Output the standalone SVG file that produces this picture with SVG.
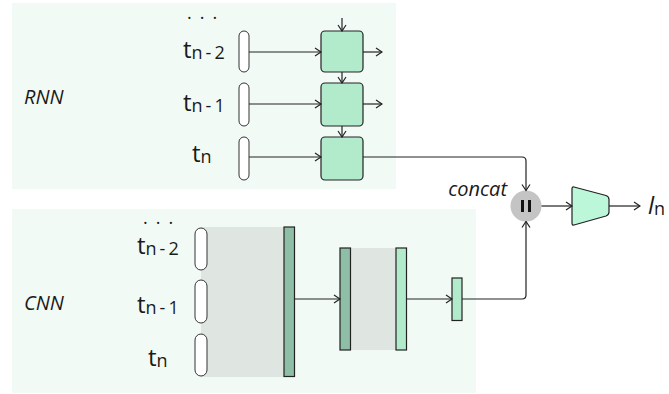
<svg xmlns="http://www.w3.org/2000/svg" width="669" height="394" viewBox="0 0 669 394">
  <defs>
    <marker id="arr" viewBox="0 0 8 10" markerWidth="8" markerHeight="10" refX="7" refY="5" orient="auto" markerUnits="userSpaceOnUse">
      <path d="M1,1 L7,5 L1,9" fill="none" stroke="#222" stroke-width="1.2"/>
    </marker>
    <style>
      .panel { fill: #f2faf6; }
      .pill { fill: #ffffff; stroke: #333; stroke-width: 1; }
      .cell { fill: #b2ebcb; stroke: #222; stroke-width: 1.2; }
      .conn { fill: none; stroke: #222; stroke-width: 1.2; }
      .lbl { font-family: "Open Sans", "DejaVu Sans", sans-serif; font-weight: 400; fill: #1a1a1a; }
      .it { font-style: italic; font-size: 20px; }
      .t { font-size: 24px; }
      .sub { font-size: 18px; letter-spacing: 3px; }
      .dots { font-size: 18px; letter-spacing: 8px; }
      .dark { fill: #8fbea6; stroke: #222; stroke-width: 1.2; }
      .light { fill: #b2ebcb; stroke: #222; stroke-width: 1.2; }
      .feat { fill: #dfe6e2; }
    </style>
  </defs>

  <!-- panels -->
  <rect class="panel" x="12" y="3" width="384" height="186"/>
  <rect class="panel" x="12" y="209" width="464" height="184"/>

  <!-- RNN branch -->
  <g id="rnn">
    <text class="lbl it" x="24" y="104">RNN</text>
    <text class="lbl dots" x="187" y="19">...</text>
    <text class="lbl t" x="183" y="58">t<tspan class="sub" dy="1">n-2</tspan></text>
    <text class="lbl t" x="183" y="111">t<tspan class="sub" dy="1">n-1</tspan></text>
    <text class="lbl t" x="192" y="162">t<tspan class="sub" dy="1">n</tspan></text>
  </g>
  <g id="rnn-in-1"><rect class="pill" x="239" y="31" width="10" height="41" rx="5"/></g>
  <g id="rnn-in-2"><rect class="pill" x="239" y="83" width="10" height="43" rx="5"/></g>
  <g id="rnn-in-3"><rect class="pill" x="239" y="137" width="10" height="43" rx="5"/></g>
  <g id="rnn-cell-1"><rect class="cell" x="321" y="31" width="42" height="41" rx="4"/></g>
  <g id="rnn-cell-2"><rect class="cell" x="321" y="83" width="42" height="43" rx="4"/></g>
  <g id="rnn-cell-3"><rect class="cell" x="321" y="137" width="42" height="43" rx="4"/></g>

  <!-- CNN branch -->
  <g id="cnn">
    <text class="lbl it" x="24" y="310">CNN</text>
    <text class="lbl dots" x="143" y="224">...</text>
    <text class="lbl t" x="137" y="254">t<tspan class="sub" dy="1">n-2</tspan></text>
    <text class="lbl t" x="137" y="313">t<tspan class="sub" dy="1">n-1</tspan></text>
    <text class="lbl t" x="148" y="366">t<tspan class="sub" dy="1">n</tspan></text>
  </g>
  <g id="cnn-conv-1">
    <rect class="feat" x="201" y="227" width="84" height="150"/>
    <rect class="dark" x="284" y="227" width="10.5" height="149.5"/>
  </g>
  <g id="cnn-in-1"><rect class="pill" x="195" y="228" width="12" height="42" rx="6"/></g>
  <g id="cnn-in-2"><rect class="pill" x="195" y="280" width="12" height="43" rx="6"/></g>
  <g id="cnn-in-3"><rect class="pill" x="195" y="334" width="12" height="42" rx="6"/></g>
  <g id="cnn-conv-2">
    <rect class="feat" x="350" y="248" width="47" height="102"/>
    <rect class="dark" x="340" y="248" width="10.5" height="102"/>
    <rect class="light" x="396" y="248" width="10.5" height="102"/>
  </g>
  <g id="cnn-out"><rect class="light" x="452" y="278" width="10" height="42.5"/></g>

  <!-- merge and head -->
  <g id="concat">
    <text class="lbl it" x="507" y="196" text-anchor="end">concat</text>
    <circle cx="526" cy="206" r="15.5" fill="#c4c4c4"/>
    <rect x="521" y="200" width="3" height="12" fill="#111"/>
    <rect x="528" y="200" width="3" height="12" fill="#111"/>
  </g>
  <g id="head">
    <path d="M574,187 L606,195.5 Q609,196.5 609,199.5 L609,212 Q609,215 606,216 L574,225 Q572,225.5 572,223 L572,189 Q572,186.5 574,187 Z" fill="#bdf7da" stroke="#222" stroke-width="1.2"/>
  </g>
  <g id="output">
    <text class="lbl t" x="648" y="214" font-style="italic">l<tspan class="sub" dy="1" font-style="normal">n</tspan></text>
  </g>

  <!-- connectors -->
  <g id="connectors">
    <line class="conn" x1="249" y1="52" x2="321" y2="52" marker-end="url(#arr)"/>
    <line class="conn" x1="249" y1="104" x2="321" y2="104" marker-end="url(#arr)"/>
    <line class="conn" x1="249" y1="157" x2="321" y2="157" marker-end="url(#arr)"/>
    <line class="conn" x1="363" y1="52" x2="382" y2="52" marker-end="url(#arr)"/>
    <line class="conn" x1="363" y1="104" x2="382" y2="104" marker-end="url(#arr)"/>
    <line class="conn" x1="342" y1="18" x2="342" y2="31" marker-end="url(#arr)"/>
    <line class="conn" x1="342" y1="72" x2="342" y2="83" marker-end="url(#arr)"/>
    <line class="conn" x1="342" y1="126" x2="342" y2="137" marker-end="url(#arr)"/>
    <path class="conn" d="M363,157 L522,157 Q526,157 526,161 L526,190.5" marker-end="url(#arr)"/>
    <line class="conn" x1="295" y1="299" x2="340" y2="299" marker-end="url(#arr)"/>
    <line class="conn" x1="407" y1="299" x2="452" y2="299" marker-end="url(#arr)"/>
    <path class="conn" d="M462,299 L522,299 Q526,299 526,295 L526,221.5" marker-end="url(#arr)"/>
    <line class="conn" x1="541.5" y1="206" x2="572" y2="206" marker-end="url(#arr)"/>
    <line class="conn" x1="609" y1="206" x2="640" y2="206" marker-end="url(#arr)"/>
  </g>
</svg>
